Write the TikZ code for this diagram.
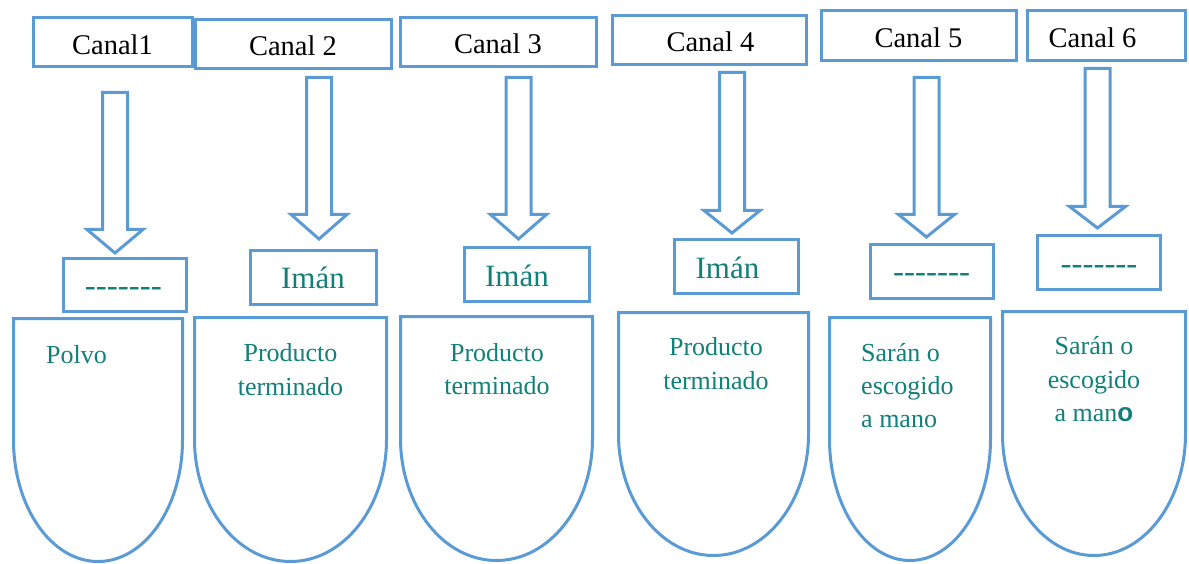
\documentclass[tikz,border=0pt]{standalone}
\usepackage{fontspec}
\setmainfont{Liberation Serif}
\newfontfamily\heavysans{Liberation Sans}
\definecolor{boxblue}{RGB}{91,155,213}
\definecolor{tealtext}{RGB}{17,128,120}
\tikzset{
  outline/.style={draw=boxblue, line width=3pt, line join=miter},
  framebox/.style={outline, inner sep=0pt},
  blockarrow/.style={outline, fill=white},
  canaltext/.style={anchor=base, inner sep=0pt, text=black, font=\fontsize{28.5}{30}\selectfont},
  imantext/.style={anchor=base, inner sep=0pt, text=tealtext, font=\fontsize{31}{33}\selectfont},
  dashtext/.style={anchor=base, inner sep=0pt, text=tealtext, font=\fontsize{33}{35}\selectfont},
  bodytext/.style={anchor=base, inner sep=0pt, text=tealtext, font=\fontsize{26}{34}\selectfont},
  bodyleft/.style={bodytext, anchor=base west},
}
\newcommand\blockarr[4]{%
  \draw[blockarrow] (#1-12.5,#2) -- (#1+12.5,#2) -- (#1+12.5,#3) -- (#1+28,#3)
    -- (#1,#4) -- (#1-28,#3) -- (#1-12.5,#3) -- cycle;}
\newcommand\shieldshape[4]{%
  \pgfmathsetmacro\shXa{#1+1.5}\pgfmathsetmacro\shXb{#2-1.5}%
  \pgfmathsetmacro\shYa{#3+1.5}\pgfmathsetmacro\shYb{#4-1.5}%
  \pgfmathsetmacro\shXm{(\shXa+\shXb)/2}\pgfmathsetmacro\shYm{(\shYa+\shYb)/2}%
  \pgfmathsetmacro\shRx{(\shXb-\shXa)/2}\pgfmathsetmacro\shRy{\shYb-\shYm}%
  \draw[outline] (\shXa,\shYm) -- (\shXa,\shYa) -- (\shXb,\shYa) -- (\shXb,\shYm)
    .. controls (\shXb,\shYm+0.5523*\shRy) and (\shXm+0.5523*\shRx,\shYb) .. (\shXm,\shYb)
    .. controls (\shXm-0.5523*\shRx,\shYb) and (\shXa,\shYm+0.5523*\shRy) .. cycle;}
\begin{document}
\begin{tikzpicture}[x=1pt,y=-1pt]
\useasboundingbox (0,0) rectangle (1189,564);

% top channel boxes
\node[framebox, minimum width=159pt, minimum height=49pt] (c1) at (113,42) {};
\node[framebox, minimum width=196pt, minimum height=49pt] (c2) at (293.5,44) {};
\node[framebox, minimum width=196pt, minimum height=49pt] (c3) at (498.5,42) {};
\node[framebox, minimum width=194pt, minimum height=49pt] (c4) at (709.5,40) {};
\node[framebox, minimum width=195pt, minimum height=50pt] (c5) at (919,35.5) {};
\node[framebox, minimum width=158pt, minimum height=50pt] (c6) at (1106.5,35.5) {};
\node[canaltext] (ct1) at (112.5,55) {Canal1};
\node[canaltext] (ct2) at (293,56) {Canal 2};
\node[canaltext] (ct3) at (498,54) {Canal 3};
\node[canaltext] (ct4) at (710.5,52) {Canal 4};
\node[canaltext] (ct5) at (918.5,48) {Canal 5};
\node[canaltext] (ct6) at (1092.5,48) {Canal 6};

% block arrows
\blockarr{115}{92.5}{229.5}{253}
\blockarr{319}{77.5}{214.5}{239}
\blockarr{518.5}{77.5}{214.5}{239}
\blockarr{732}{72.5}{210.5}{233}
\blockarr{926.5}{77.5}{214.5}{237}
\blockarr{1097.5}{68.5}{206.5}{228}

% small boxes
\node[framebox, minimum width=123pt, minimum height=53pt] (b1) at (125,285) {};
\node[framebox, minimum width=126pt, minimum height=54pt] (b2) at (313.5,277.5) {};
\node[framebox, minimum width=125pt, minimum height=54pt] (b3) at (527,274.5) {};
\node[framebox, minimum width=124pt, minimum height=54pt] (b4) at (736.5,266.5) {};
\node[framebox, minimum width=123pt, minimum height=54pt] (b5) at (932,271.5) {};
\node[framebox, minimum width=123pt, minimum height=54pt] (b6) at (1099,262.5) {};
\node[dashtext] (bt1) at (123.3,296) {-{}-{}-{}-{}-{}-{}-};
\node[imantext] (bt2) at (313,288) {Imán};
\node[imantext] (bt3) at (517,287) {Imán};
\node[imantext] (bt4) at (727.5,278) {Imán};
\node[dashtext] (bt5) at (931.7,282) {-{}-{}-{}-{}-{}-{}-};
\node[dashtext] (bt6) at (1099,274) {-{}-{}-{}-{}-{}-{}-};

% shields
\shieldshape{12}{184}{317}{563}
\shieldshape{193}{388}{316}{563}
\shieldshape{399}{594}{315}{562}
\shieldshape{617}{810}{311}{557}
\shieldshape{828}{992}{316}{562}
\shieldshape{1001}{1187}{310}{557}

% shield texts
\node[bodyleft] (p1) at (46,363) {Polvo};
\node[bodytext] (p2a) at (290.5,361) {Producto};
\node[bodytext] (p2b) at (290.5,395) {terminado};
\node[bodytext] (p3a) at (497,361) {Producto};
\node[bodytext] (p3b) at (497,394) {terminado};
\node[bodytext] (p4a) at (716,355) {Producto};
\node[bodytext] (p4b) at (716,389) {terminado};
\node[bodyleft] (p5a) at (861,361) {Sarán o};
\node[bodyleft] (p5b) at (861,394) {escogido};
\node[bodyleft] (p5c) at (861,427) {a mano};
\node[bodytext] (p6a) at (1094,354) {Sarán o};
\node[bodytext] (p6b) at (1094,388) {escogido};
\node[bodytext] (p6c) at (1094,421) {a man{\heavysans\bfseries o}};
\end{tikzpicture}
\end{document}
